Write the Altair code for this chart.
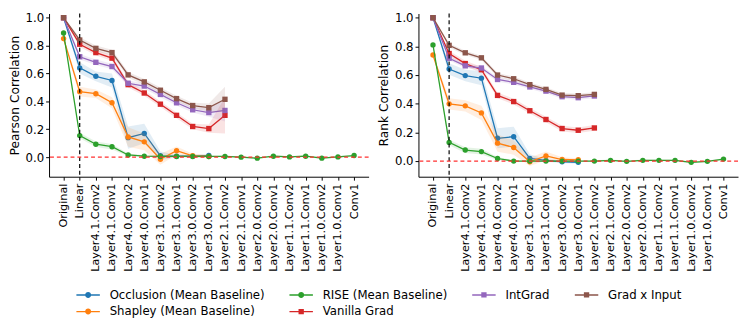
import altair as alt
import pandas as pd

layers = ["Original", "Linear", "Layer4.1.Conv2", "Layer4.1.Conv1", "Layer4.0.Conv2",
          "Layer4.0.Conv1", "Layer3.1.Conv2", "Layer3.1.Conv1", "Layer3.0.Conv2",
          "Layer3.0.Conv1", "Layer2.1.Conv2", "Layer2.1.Conv1", "Layer2.0.Conv2",
          "Layer2.0.Conv1", "Layer1.1.Conv2", "Layer1.1.Conv1", "Layer1.0.Conv2",
          "Layer1.0.Conv1", "Conv1"]

methods = ["Occlusion (Mean Baseline)", "Shapley (Mean Baseline)", "RISE (Mean Baseline)",
           "Vanilla Grad", "IntGrad", "Grad x Input"]
colors = ["#1f77b4", "#ff7f0e", "#2ca02c", "#d62728", "#9467bd", "#8c564b"]
markers = ["circle", "circle", "circle", "square", "square", "square"]
legend_order = ["Occlusion (Mean Baseline)", "RISE (Mean Baseline)", "IntGrad", "Grad x Input",
                "Shapley (Mean Baseline)", "Vanilla Grad"]

# Pearson correlation (mean values)
pearson_occlusion = [1.0, 0.64, 0.58, 0.55, 0.14, 0.17, 0.01, 0.007, 0.007, 0.012]
pearson_shapley = [0.85, 0.47, 0.455, 0.39, 0.145, 0.11, -0.015, 0.047, 0.01, 0.005]
pearson_rise = [0.89, 0.155, 0.093, 0.075, 0.016, 0.007, 0.005, 0.005, 0.005, 0.005, 0.005,
                0.0, -0.007, 0.007, 0.002, 0.007, -0.007, 0.002, 0.012]
pearson_vanilla = [1.0, 0.81, 0.75, 0.71, 0.52, 0.46, 0.38, 0.30, 0.22, 0.205, 0.30]
pearson_intgrad = [1.0, 0.72, 0.68, 0.65, 0.53, 0.51, 0.45, 0.39, 0.34, 0.32, 0.335]
pearson_gxi = [1.0, 0.84, 0.78, 0.75, 0.59, 0.54, 0.48, 0.42, 0.37, 0.355, 0.415]

# Pearson confidence half-widths
pearson_occlusion_ci = [0.0, 0.04, 0.035, 0.05, 0.08, 0.07, 0.03, 0.01, 0.01, 0.01]
pearson_shapley_ci = [0.01, 0.035, 0.03, 0.04, 0.07, 0.06, 0.04, 0.03, 0.015, 0.01]
pearson_rise_ci = [0.01, 0.02, 0.02, 0.02, 0.01, 0.006, 0.006, 0.006, 0.006, 0.006, 0.006,
                   0.006, 0.006, 0.006, 0.006, 0.006, 0.006, 0.006, 0.006]
pearson_vanilla_ci = [0.0, 0.02, 0.02, 0.02, 0.02, 0.02, 0.02, 0.02, 0.02, 0.03, 0.13]
pearson_intgrad_ci = [0.0, 0.02, 0.02, 0.02, 0.02, 0.02, 0.02, 0.02, 0.02, 0.03, 0.08]
pearson_gxi_ci = [0.0, 0.02, 0.02, 0.02, 0.02, 0.02, 0.02, 0.02, 0.02, 0.03, 0.09]

# Rank correlation (mean values)
rank_occlusion = [1.0, 0.642, 0.596, 0.578, 0.159, 0.17, 0.018, 0.005, -0.005, -0.009]
rank_shapley = [0.74, 0.399, 0.385, 0.336, 0.125, 0.095, -0.005, 0.036, 0.011, 0.009]
rank_rise = [0.81, 0.13, 0.077, 0.066, 0.018, 0.0, 0.0, 0.0, 0.0, 0.0, 0.0,
             0.005, -0.002, 0.005, 0.005, 0.005, -0.009, -0.002, 0.014]
rank_vanilla = [1.0, 0.75, 0.68, 0.637, 0.458, 0.415, 0.351, 0.29, 0.227, 0.215, 0.231]
rank_intgrad = [1.0, 0.717, 0.664, 0.649, 0.569, 0.549, 0.517, 0.488, 0.449, 0.442, 0.454]
rank_gxi = [1.0, 0.807, 0.755, 0.72, 0.60, 0.574, 0.533, 0.50, 0.46, 0.456, 0.465]

# Rank confidence half-widths
rank_occlusion_ci = [0.0, 0.04, 0.04, 0.05, 0.07, 0.07, 0.03, 0.01, 0.01, 0.01]
rank_shapley_ci = [0.01, 0.04, 0.04, 0.05, 0.06, 0.05, 0.03, 0.03, 0.015, 0.01]
rank_rise_ci = [0.01, 0.02, 0.02, 0.02, 0.01, 0.006, 0.006, 0.006, 0.006, 0.006, 0.006,
                0.006, 0.006, 0.006, 0.006, 0.006, 0.006, 0.006, 0.006]
rank_vanilla_ci = [0.0, 0.02, 0.02, 0.02, 0.02, 0.02, 0.02, 0.02, 0.02, 0.02, 0.02]
rank_intgrad_ci = [0.0, 0.015, 0.015, 0.015, 0.015, 0.015, 0.015, 0.015, 0.015, 0.015, 0.015]
rank_gxi_ci = [0.0, 0.015, 0.015, 0.015, 0.015, 0.015, 0.015, 0.015, 0.015, 0.015, 0.015]

pearson_series = [(pearson_occlusion, pearson_occlusion_ci), (pearson_shapley, pearson_shapley_ci),
                  (pearson_rise, pearson_rise_ci), (pearson_vanilla, pearson_vanilla_ci),
                  (pearson_intgrad, pearson_intgrad_ci), (pearson_gxi, pearson_gxi_ci)]
rank_series = [(rank_occlusion, rank_occlusion_ci), (rank_shapley, rank_shapley_ci),
               (rank_rise, rank_rise_ci), (rank_vanilla, rank_vanilla_ci),
               (rank_intgrad, rank_intgrad_ci), (rank_gxi, rank_gxi_ci)]

# legend symbols: a short line with the marker on it
line_path = "M-1.5,-0.09 L1.5,-0.09 L1.5,0.09 L-1.5,0.09 Z"
circle_path = "M-0.38,0 A0.38,0.38 0 1,1 0.38,0 A0.38,0.38 0 1,1 -0.38,0 Z"
square_path = "M-0.34,-0.34 L0.34,-0.34 L0.34,0.34 L-0.34,0.34 Z"
legend_shapes = [line_path + " " + (circle_path if markers[methods.index(m)] == "circle" else square_path)
                 for m in legend_order]
legend_colors = [colors[methods.index(m)] for m in legend_order]

PEARSON_DOMAIN = [-0.14, 1.03]
RANK_DOMAIN = [-0.109, 1.029]
W, H = 327, 167


def build_df(series):
    rows = []
    for m, (vals, ci) in zip(methods, series):
        for i, (v, c) in enumerate(zip(vals, ci)):
            rows.append({"layer": layers[i], "method": m, "value": v,
                         "lo": v - c, "hi": v + c})
    return pd.DataFrame(rows)


def legend_spec():
    return alt.Legend(title=None, orient="none", legendX=32, legendY=280, direction="horizontal",
                      columns=4, symbolSize=256, symbolStrokeWidth=0, symbolOpacity=1,
                      labelOffset=14, columnPadding=25, rowPadding=3,
                      labelFontSize=12, labelColor="black", labelFont="DejaVu Sans")


def panel(series, ytitle, ydomain, with_legend):
    df = build_df(series)
    x = alt.X("layer:N", sort=layers,
              scale=alt.Scale(type="point", domain=layers, padding=0.9),
              axis=alt.Axis(title=None, labelAngle=270, labelOverlap=False,
                            labelFontSize=11.5, labelPadding=3))
    yscale = alt.Scale(domain=ydomain, nice=False, zero=False)
    yaxis = alt.Axis(title=ytitle, values=[0, 0.2, 0.4, 0.6, 0.8, 1.0], format=".1f",
                     titlePadding=4)
    lay = []
    for m, mk, col in zip(methods, markers, colors):
        sub = df[df.method == m]
        base = alt.Chart(sub)
        lay.append(base.mark_area(opacity=0.13, color=col).encode(
            x=x, y=alt.Y("lo:Q", scale=yscale, axis=yaxis), y2="hi:Q"))
        lay.append(base.mark_line(strokeWidth=1.3, color=col).encode(
            x=x, y=alt.Y("value:Q", scale=yscale, axis=yaxis)))
        lay.append(base.mark_point(filled=True, shape=mk, size=30, opacity=1, color=col).encode(
            x=x, y=alt.Y("value:Q", scale=yscale, axis=yaxis)))
    vline = alt.Chart(pd.DataFrame({"layer": ["Linear"]})).mark_rule(
        color="black", strokeDash=[4, 3], strokeWidth=1.2).encode(x=x)
    hline = alt.Chart(pd.DataFrame({"v": [0.0]})).mark_rule(
        color="#ff3030", strokeDash=[4, 3], strokeWidth=1.2).encode(
        y=alt.Y("v:Q", scale=yscale, axis=yaxis))
    lay.append(vline)
    lay.append(hline)
    if with_legend:
        # legend-only layer: no rows survive the filter, the explicit domains fill the legend
        leg = alt.Chart(df).transform_filter("datum.value > 100").mark_point(filled=True).encode(
            x=x, y=alt.Y("value:Q", scale=yscale, axis=yaxis),
            color=alt.Color("method:N", scale=alt.Scale(domain=legend_order, range=legend_colors),
                            legend=legend_spec()),
            shape=alt.Shape("method:N", scale=alt.Scale(domain=legend_order, range=legend_shapes),
                            legend=legend_spec()))
        lay.append(leg)
    return alt.layer(*lay).properties(width=W, height=H)


left = panel(pearson_series, "Pearson Correlation", PEARSON_DOMAIN, True)
right = panel(rank_series, "Rank Correlation", RANK_DOMAIN, False)

chart = alt.hconcat(left, right, spacing=8, padding=0).configure_view(
    stroke=None).configure_axis(
    domainColor="black", tickColor="black", labelColor="black", titleColor="black",
    labelFont="DejaVu Sans", titleFont="DejaVu Sans", labelFontSize=12, titleFontSize=12.5,
    titleFontWeight="normal", grid=False, tickSize=3.5, domainWidth=1, tickWidth=1
)

chart.save("out.html", embed_options={"renderer": "svg", "actions": False})
